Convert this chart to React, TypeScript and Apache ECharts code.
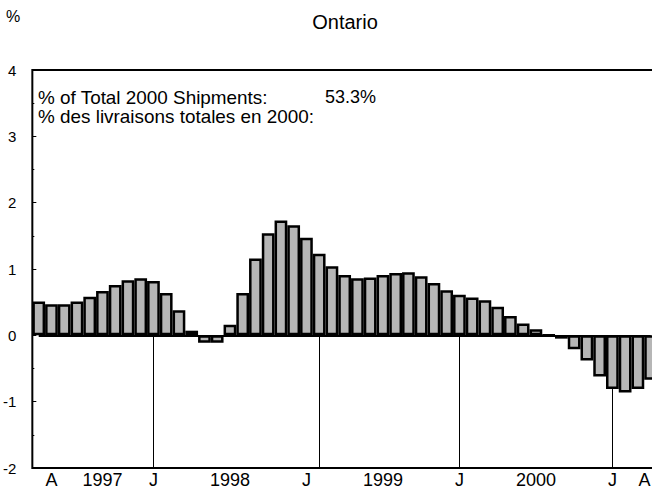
import React, { useEffect, useRef } from "react";
import * as echarts from "echarts";

const categories: string[] = [
  "1997-04", "1997-05", "1997-06", "1997-07", "1997-08", "1997-09", "1997-10", "1997-11", "1997-12",
  "1998-01", "1998-02", "1998-03", "1998-04", "1998-05", "1998-06", "1998-07", "1998-08", "1998-09", "1998-10", "1998-11", "1998-12",
  "1999-01", "1999-02", "1999-03", "1999-04", "1999-05", "1999-06", "1999-07", "1999-08", "1999-09", "1999-10", "1999-11", "1999-12",
  "2000-01", "2000-02", "2000-03", "2000-04", "2000-05", "2000-06", "2000-07", "2000-08", "2000-09", "2000-10", "2000-11", "2000-12",
  "2001-01", "2001-02", "2001-03", "2001-04",
];

const values: number[] = [
  0.51, 0.47, 0.47, 0.51, 0.58, 0.67, 0.76, 0.83, 0.86, 0.82, 0.64, 0.38, 0.07,
  -0.11, -0.11, 0.16, 0.64, 1.16, 1.54, 1.73, 1.66, 1.47, 1.23, 1.04, 0.91,
  0.86, 0.87, 0.91, 0.94, 0.95, 0.89, 0.79, 0.68, 0.61, 0.57, 0.53, 0.43,
  0.29, 0.18, 0.09, 0.0, -0.05, -0.21, -0.38, -0.62, -0.81, -0.86, -0.81, -0.67,
];

// tick labels shown under the axis, keyed by category index
const tickLabelIndex: number[] = [1, 5, 9, 15, 21, 27, 33, 39, 45, 48];
const tickLabelText: string[] = ["A", "1997", "J", "1998", "J", "1999", "J", "2000", "J", "A"];

// vertical separator lines (below zero)
const separatorIndex: number[] = [9, 22, 33, 45];

const yTicks = { min: -2, max: 4, interval: 1 };

const titleText = "Ontario";
const unitText = "%";
const noteLine1 = "% of Total 2000 Shipments:";
const noteLine2 = "% des livraisons totales en 2000:";
const shareText = "53.3%";

const FONT = "'Liberation Sans', Arial, Helvetica, sans-serif";

export default function App() {
  const ref = useRef<HTMLDivElement>(null);
  useEffect(() => {
    if (!ref.current) return;
    const chart = echarts.init(ref.current, undefined, { renderer: "svg" });
    const labelMap: Record<number, string> = {};
    tickLabelIndex.forEach((idx, i) => (labelMap[idx] = tickLabelText[i]));
    const lastIdx = categories.length - 1;

    const axisData = categories.map((c, i) =>
      i === lastIdx ? { value: c, textStyle: { align: "right" as const } } : c
    );

    const sepLines = separatorIndex.map((idx) => [
      { coord: [categories[idx], Math.min(0, values[idx])] },
      { coord: [categories[idx], yTicks.min] },
    ]);

    chart.setOption({
      animation: false,
      grid: {
        left: 32,
        top: 70,
        width: 625,
        height: 398,
        show: true,
        borderColor: "#000",
        borderWidth: 2,
        backgroundColor: "transparent",
      },
      xAxis: {
        type: "category",
        data: axisData,
        axisLine: { show: false },
        axisTick: { show: false },
        splitLine: { show: false },
        axisLabel: {
          interval: (index: number) => labelMap[index] !== undefined,
          formatter: (_v: string, index: number) => labelMap[index] ?? "",
          color: "#000",
          fontFamily: FONT,
          fontSize: 18,
          margin: 3,
        },
      },
      yAxis: {
        type: "value",
        min: yTicks.min,
        max: yTicks.max,
        interval: yTicks.interval,
        axisLine: { show: false },
        axisTick: { show: true, inside: true, length: 4, lineStyle: { color: "#000", width: 1 } },
        minorTick: { show: true, splitNumber: 2, length: 2, lineStyle: { color: "#000", width: 1 } },
        splitLine: { show: false },
        axisLabel: {
          color: "#000",
          fontFamily: FONT,
          fontSize: 15,
          margin: 16,
        },
      },
      graphic: [
        { type: "text", left: 6, top: 8, style: { text: unitText, fontSize: 16, fontFamily: FONT, fill: "#000" } },
        {
          type: "text",
          x: 345,
          y: 22,
          style: { text: titleText, fontSize: 20, fontFamily: FONT, fill: "#000", textAlign: "center", textVerticalAlign: "middle" },
        },
        {
          type: "text",
          x: 38,
          y: 98,
          scaleX: 1.05,
          style: { text: noteLine1, fontSize: 18, fontFamily: FONT, fill: "#000", textVerticalAlign: "middle" },
        },
        {
          type: "text",
          x: 38,
          y: 117,
          scaleX: 1.05,
          style: { text: noteLine2, fontSize: 18, fontFamily: FONT, fill: "#000", textVerticalAlign: "middle" },
        },
        {
          type: "text",
          x: 325,
          y: 97,
          style: { text: shareText, fontSize: 18, fontFamily: FONT, fill: "#000", textVerticalAlign: "middle" },
        },
      ],
      series: [
        {
          type: "bar",
          data: values,
          barCategoryGap: "0%",
          itemStyle: { color: "#b6b6b6", borderColor: "#000", borderWidth: 2.5 },
          markLine: {
            silent: true,
            symbol: ["none", "none"],
            label: { show: false },
            data: [
              [
                { coord: [categories[0], 0], lineStyle: { width: 2 } },
                { coord: [categories[lastIdx], 0] },
              ],
              ...sepLines,
            ],
            lineStyle: { color: "#000", width: 1, type: "solid" },
          },
        },
      ],
    });
    return () => chart.dispose();
  }, []);

  return (
    <div style={{ position: "fixed", left: 0, top: 0, width: 652, height: 493, overflow: "hidden", background: "#fff" }}>
      <div ref={ref} style={{ width: 680, height: 493 }} />
    </div>
  );
}
